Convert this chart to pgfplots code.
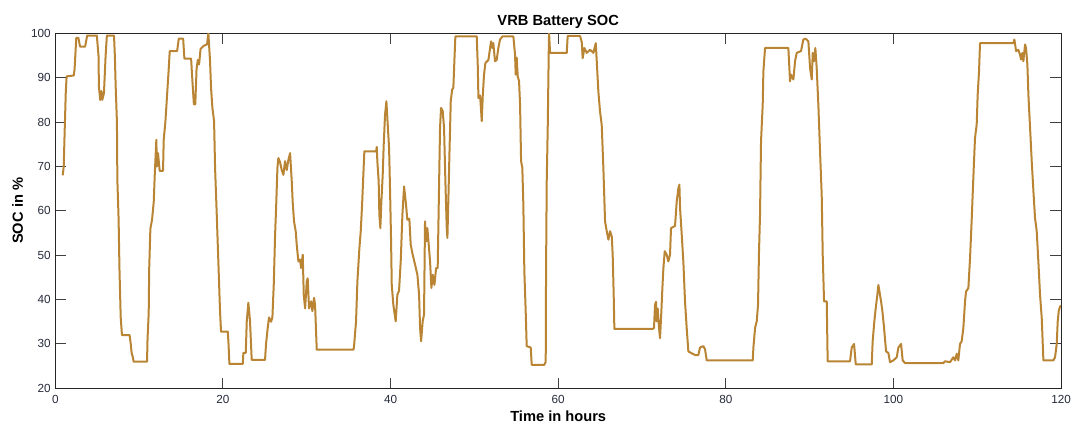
\documentclass[border=0pt]{standalone}
\usepackage{fontspec}
\setmainfont{Liberation Sans}
\usepackage{pgfplots}
\pgfplotsset{compat=1.18}
\definecolor{soc}{RGB}{185,132,51}
\definecolor{tl}{RGB}{38,42,58}
\begin{document}
\begin{tikzpicture}
\begin{axis}[
  scale only axis, width=754.3pt, height=266.25pt,
  xmin=0, xmax=120, ymin=20, ymax=100,
  xtick={0,20,...,120}, ytick={20,30,...,100},
  tick align=inside, xtick pos=both, ytick pos=both,
  major tick length=8pt,
  tick style={line width=0.75pt, color=black!75},
  axis line style={line width=0.8pt, color=black!85},
  /pgf/number format/assume math mode=true,
  ticklabel style={font=\fontsize{8.8}{10}\selectfont, text=tl},
  xticklabel style={anchor=base, yshift=-11.2pt},
  title={VRB Battery SOC},
  title style={font=\fontsize{11}{13}\selectfont\bfseries, at={(axis description cs:0.5,1.0233)}, anchor=base, yshift=-6pt},
  xlabel={Time in hours},
  xlabel style={font=\fontsize{11}{13}\selectfont\bfseries, at={(axis description cs:0.5,-0.094)}, anchor=base},
  ylabel={SOC in \%},
  ylabel style={font=\fontsize{11}{13}\selectfont\bfseries, at={(axis description cs:-0.0375,0.5)}, anchor=center},
]
\addplot[soc, line width=1.5pt, line join=round] coordinates {
(0.88,68)(1.0,70)(1.1,77)(1.25,87)(1.35,90.3)(2.2,90.5)(2.3,92)(2.5,99)(2.75,99)(2.95,97)(3.55,97)(3.8,99.5)(4.95,99.5)(5.15,95)(5.2,88)(5.35,85)(5.5,87)(5.6,85)(5.8,86.5)(6.0,95)(6.15,99.5)(7.0,99.5)(7.1,95)(7.2,88)(7.35,80)(7.4,67)(7.55,58)(7.65,47)(7.8,36)(7.95,32)(8.86,32)(9.0,30)(9.1,28)(9.25,27)(9.34,26)(10.94,26)(11.0,31)(11.14,37)(11.2,47)(11.34,56)(11.54,58)(11.74,62)(11.86,68)(12.05,76)(12.12,70)(12.25,73)(12.45,69)(12.85,69)(12.93,76)(13.13,80)(13.33,86)(13.53,92)(13.65,96)(14.53,96)(14.73,98.8)(15.25,98.8)(15.4,94.3)(16.2,94.3)(16.3,91)(16.53,84)(16.7,84)(16.85,92)(17.0,94)(17.15,93)(17.33,96.5)(17.7,97.2)(18.1,97.5)(18.26,100)(18.46,93.7)(18.58,87.7)(18.74,83.2)(18.94,80.2)(19.06,69.7)(19.26,59.1)(19.45,48.6)(19.65,37.4)(19.77,32.8)
(20.57,32.8)(20.65,30.6)(20.77,25.5)(22.36,25.5)(22.44,28)(22.72,28)(22.84,35.1)(23.03,39.3)(23.23,35.1)(23.43,26.4)(25.02,26.4)(25.14,30)(25.34,33.6)(25.5,36)(25.74,35)(25.9,36)(26.06,43.3)(26.22,54.6)(26.34,60.6)(26.5,69.7)(26.61,71.9)(26.81,71)(27.01,69.2)(27.21,68.1)(27.41,71.2)(27.61,69.2)(27.81,71.5)(28.01,73)(28.21,66.6)(28.32,62)(28.48,57.6)(28.68,55.4)(28.8,52.4)(29.0,48.6)(29.2,49)(29.32,47.1)(29.52,50.1)(29.64,41.1)(29.8,38)(30.0,44.1)(30.11,44.8)(30.27,38)(30.51,39.6)(30.67,37.4)(30.87,40.4)(30.99,38.8)(31.19,28.7)(35.57,28.7)
(35.64,29.5)(35.88,35.1)(36.04,44.1)(36.28,51.6)(36.44,55.4)(36.6,61.4)(36.75,68.1)(36.87,73.4)(38.27,73.4)(38.35,74.4)(38.42,71.2)(38.58,66.6)(38.66,59.1)(38.78,56.1)(38.9,62)(39.06,68.1)(39.18,74.9)(39.34,81.7)(39.5,84.7)(39.66,79.4)(39.82,74.2)(39.94,64.4)(40.06,53.1)(40.14,43.3)(40.33,38.8)(40.61,35.1)(40.81,41.1)(41.01,42)(41.21,48.6)(41.41,59.1)(41.61,65.5)(41.81,62)(42.0,58)(42.24,58.2)(42.4,52.4)(42.64,50.1)(42.92,47.9)(43.2,45.6)(43.4,41.1)(43.52,33.6)(43.64,30.6)(43.83,35.1)(43.99,36.6)(44.11,57.6)(44.23,53.1)(44.39,56.1)(44.55,52.4)(44.71,48.6)(44.87,42.6)(45.03,45.6)(45.23,43.3)(45.43,47.1)(45.62,47.1)(45.74,60.6)(45.9,78.7)(46.02,83.2)(46.22,82.5)(46.38,78.7)(46.54,66.6)(46.7,56.1)(46.78,53.9)(46.9,62.9)(47.02,72.6)(47.18,84.7)(47.34,87.3)(47.49,87.7)(47.61,93.7)(47.73,99.3)(50.28,99.3)(50.4,92.9)(50.48,85.4)(50.68,86)(50.88,80.2)(51.0,86)(51.15,90.7)(51.31,93.3)
(51.67,94)(51.99,98.2)(52.15,96.7)(52.26,97.8)(52.46,93.7)(52.66,94)(52.86,96.7)(53.06,98.6)(53.34,99.3)(54.65,99.3)(54.85,95.2)(54.93,90.7)(55.05,94.5)(55.17,90.3)(55.33,89.2)(55.45,83.9)(55.57,71.2)(55.72,69.7)(55.84,61.4)(55.96,46.4)(56.12,37.4)(56.24,29.5)(56.72,29.2)(56.84,25.3)(58.35,25.3)(58.51,26)(58.55,46.4)(58.63,66.6)(58.75,78.7)(58.87,95.9)(58.91,100)(59.03,95.6)(61.02,95.6)(61.13,99.4)(62.61,99.4)(62.81,98)(62.92,94.4)(63.12,96.7)(63.4,95.6)(63.8,96.3)(64.2,95.6)(64.48,97.8)(64.6,93.7)(64.79,86.9)(64.99,82.4)(65.19,79.4)(65.39,69.6)(65.59,57.6)(65.79,55.4)(65.99,53.5)(66.19,55.4)(66.39,54.2)(66.5,50.1)(66.62,41.1)(66.7,33.4)
(71.27,33.4)(71.43,33.6)(71.55,38.8)(71.67,39.5)(71.75,35.1)(71.87,38)(72.03,33.6)(72.15,31.3)(72.31,37.4)(72.43,42.6)(72.55,47.1)(72.71,50.9)(72.95,50.1)(73.14,48.6)(73.34,50.1)(73.46,56.1)(73.66,56.3)(73.94,56.6)(74.14,62.1)(74.34,65.1)(74.46,65.9)(74.54,60.6)(74.74,54.6)(74.93,48.6)(75.13,39.6)(75.33,33.6)(75.53,28.3)(75.93,27.9)(76.33,27.5)(76.72,27.5)(76.92,29.2)(77.32,29.5)(77.52,28.8)(77.72,26.3)(83.21,26.3)(83.29,29.2)(83.49,33.6)(83.69,35.1)(83.84,38.8)(83.96,50.9)(84.08,59.1)(84.2,75.7)(84.4,83.9)(84.48,91.4)(84.68,96.7)
(87.46,96.7)(87.66,89.2)(87.78,90.7)(88.06,89.6)(88.26,93.7)(88.46,95.6)(88.97,96)(89.25,98.6)(89.53,98.8)(89.85,98.2)(90.05,92.2)(90.25,89.6)(90.37,95.6)(90.52,93.7)(90.68,96.7)(90.84,92.2)(91.04,83.9)(91.24,73.4)(91.44,63.6)(91.56,50.1)(91.72,39.6)(92.04,39.6)(92.15,26.1)(94.82,26.1)(95.02,29.2)(95.3,30)(95.5,25.4)(97.41,25.4)(97.52,30.6)(97.72,35.1)(97.88,38)(98.08,41.1)(98.2,43.3)(98.4,41)(98.52,39.6)(98.68,37.4)(98.88,33.6)(99.12,28.3)(99.39,28)(99.59,25.9)(99.99,26.3)(100.39,27)(100.59,29.2)(100.91,30)(101.1,26.3)(101.38,25.7)
(105.96,25.7)(106.15,26.1)(106.75,25.9)(107.15,27)(107.35,26.3)(107.55,27.8)(107.74,26.3)(107.94,30)(108.14,30.6)(108.34,33.6)(108.54,39.6)(108.66,41.8)(108.94,42.6)(109.14,49.4)(109.34,58.2)(109.45,63.6)(109.61,71.1)(109.73,76.4)(109.93,79.4)(110.05,86.2)(110.21,91.4)(110.33,97.8)(114.31,97.8)(114.43,98.6)(114.63,96)(114.9,96.3)(115.1,95.2)(115.22,94.1)(115.38,95.6)(115.5,93.7)(115.7,97.5)(115.82,96.7)(115.98,92.9)(116.1,86.2)(116.3,78.7)(116.5,71.1)(116.7,64.4)(116.89,58.4)(117.09,55.5)(117.29,48.6)(117.49,41.1)(117.69,35.9)(117.89,26.3)(119.08,26.3)(119.28,27)(119.48,30)(119.6,35.1)(119.72,37.4)(119.88,38.5)(120,38.5)
};
\end{axis}
\pgfresetboundingbox
\path[use as bounding box] (-41.5pt,-29.8pt) rectangle (763.25pt,291.25pt);
\end{tikzpicture}
\end{document}
